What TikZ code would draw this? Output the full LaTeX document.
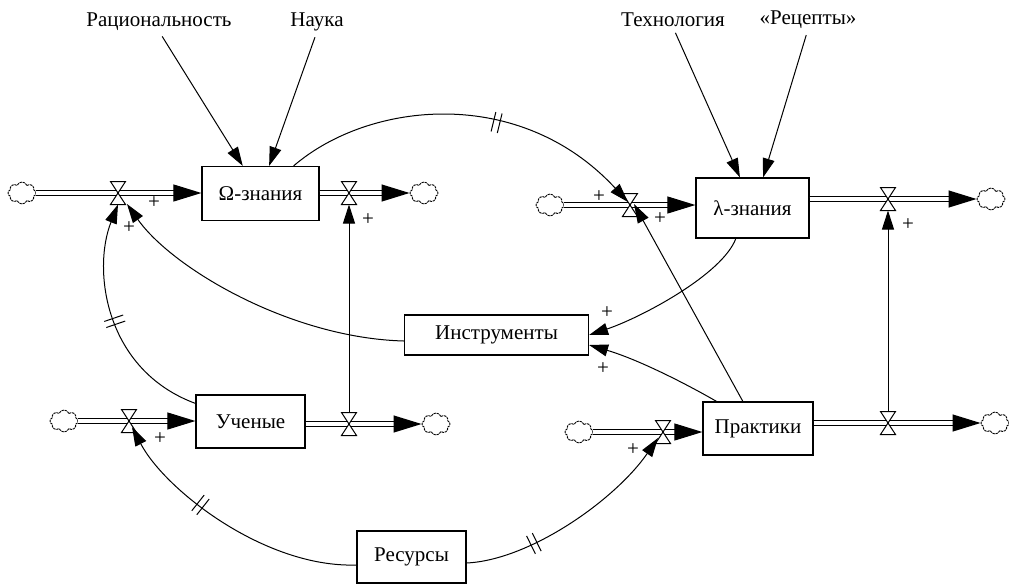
\documentclass[tikz,border=0pt]{standalone}
\usepackage{fontspec}
\setmainfont{Liberation Serif}
\usetikzlibrary{arrows.meta,calc,shapes.symbols,decorations.markings}
\tikzset{
  stock/.style={draw, line width=0.6pt, inner sep=0pt},
  lbl/.style={inner sep=0pt},
  plus/.style={inner sep=0pt},
  cloudy/.style={cloud, cloud puffs=8, cloud puff arc=140, aspect=1.3, draw, line width=0.45pt,
    dash pattern=on 1.2pt off 0.4pt, minimum width=14pt, minimum height=11pt, inner sep=0pt},
  valvenode/.style={inner sep=0pt, outer sep=0pt, minimum width=7.5pt, minimum height=11.5pt},
  bowtie/.pic={\draw[line width=0.5pt, fill=white] (-7.5,-11.5) -- (7.5,-11.5) -- (-7.5,11.5) -- (7.5,11.5) -- cycle;},
  pipe/.style={double, double distance=2pt, line width=0.55pt, -{Triangle[length=14pt,width=8.5pt]}},
  conn/.style={line width=0.5pt, -{Triangle[length=9.5pt,width=6pt]}},
  delay/.style={postaction={decorate, decoration={markings, mark=at position #1 with
    {\draw[-, shorten <=0pt, shorten >=0pt, line width=0.5pt] (-1.6pt,-5pt) -- (-1.6pt,5pt) (1.6pt,-5pt) -- (1.6pt,5pt);}}}}
}
\begin{document}
\begin{tikzpicture}[x=0.5pt,y=-0.5pt,font=\fontsize{10.5}{12}\selectfont]
\useasboundingbox (0,0) rectangle (1009,585);
% stocks
\node[stock, minimum width=58.5pt, minimum height=27pt] (omega) at (260.5,193.5) {Ω-знания};
\node[stock, minimum width=56.5pt, minimum height=30pt] (lam) at (752.5,208) {λ-знания};
\node[stock, minimum width=54.5pt, minimum height=26.5pt] (uch) at (250.5,421.5) {Ученые};
\node[stock, minimum width=55pt, minimum height=26.5pt] (prak) at (758,428.5) {Практики};
\node[stock, minimum width=92pt, minimum height=20pt] (instr) at (496.5,335) {Инструменты};
\node[stock, minimum width=54.5pt, minimum height=26pt] (res) at (411.5,557) {Ресурсы};
% labels
\node[lbl] (ratio) at (159,22) {Рациональность};
\node[lbl] (nauka) at (317,22) {Наука};
\node[lbl] (tech) at (673,20) {Технология};
\node[lbl] (rec) at (808,20) {«Рецепты»};
% clouds
\node[cloudy] (cO1) at (22,193) {};
\node[cloudy] (cO2) at (424,193) {};
\node[cloudy] (cL1) at (550,205) {};
\node[cloudy] (cL2) at (991,199) {};
\node[cloudy] (cU1) at (64,421) {};
\node[cloudy] (cU2) at (436,424) {};
\node[cloudy] (cP1) at (579,432) {};
\node[cloudy] (cP2) at (995,423) {};
% valves (nodes)
\node[valvenode] (vO1) at (118,193) {};
\node[valvenode] (vO2) at (349,193) {};
\node[valvenode] (vL1) at (630,205) {};
\node[valvenode] (vL2) at (888,199) {};
\node[valvenode] (vU1) at (129,421) {};
\node[valvenode] (vU2) at (349,424) {};
\node[valvenode] (vP1) at (663,432) {};
\node[valvenode] (vP2) at (888,423) {};
% pipes
\draw[pipe] (cO1) -- (omega.west |- cO1);
\draw[pipe] (omega.east |- vO2) -- (cO2);
\draw[pipe] (cL1) -- (lam.west |- cL1);
\draw[pipe] (lam.east |- vL2) -- (cL2);
\draw[pipe] (cU1) -- (uch.west |- cU1);
\draw[pipe] (uch.east |- vU2) -- (cU2);
\draw[pipe] (cP1) -- (prak.west |- cP1);
\draw[pipe] (prak.east |- vP2) -- (cP2);
% valve glyphs
\foreach \v in {vO1,vO2,vL1,vL2,vU1,vU2,vP1,vP2} \pic at (\v) {bowtie};
% connectors
\draw[conn, shorten <=3pt] (ratio.south) -- ($(omega.north west)!0.35!(omega.north east)$);
\draw[conn, shorten <=3pt] (nauka.south) -- ($(omega.north west)!0.573!(omega.north east)$);
\draw[conn, shorten <=3pt] (tech.south) -- ($(lam.north west)!0.39!(lam.north east)$);
\draw[conn, shorten <=3pt] (rec.south) -- ($(lam.north west)!0.593!(lam.north east)$);
\draw[conn, delay=0.58] ($(omega.north west)!0.78!(omega.north east)$) .. controls (369,101) and (520,85) .. ($(vL1)+(-2,-3)$);
\draw[conn] ($(lam.south west)!0.354!(lam.south east)$) .. controls (722,275) and (640,318) .. (instr.east);
\draw[conn] ($(prak.north west)!0.127!(prak.north east)$) .. controls (690,386) and (640,360) .. ($(instr.east)+(0,10)$);
\draw[conn] ($(prak.north west)!0.364!(prak.north east)$) -- ($(vL1)+(4,-1)$);
\draw[conn] ($(instr.west)+(0,6)$) .. controls (290,338) and (172,268) .. ($(vO1)+(9,11)$);
\draw[conn, delay=0.5] ($(uch.north west)+(0,9)$) .. controls (105,370) and (92,270) .. (vO1.south);
\draw[conn] (vU2.north) -- (vO2.south);
\draw[conn] (vP2.north) -- (vL2.south);
\draw[conn, delay=0.62] ($(res.west)+(0,8)$) .. controls (265,568) and (165,490) .. ($(vU1)+(3,6)$);
\draw[conn, delay=0.3] ($(res.east)+(0,6)$) .. controls (530,560) and (615,500) .. ($(vP1)+(-5,6)$);
% polarity signs
\node[plus] (s1) at (154,203) {+};
\node[plus] (s2) at (129,228) {+};
\node[plus] (s3) at (368,220) {+};
\node[plus] (s4) at (599,197) {+};
\node[plus] (s5) at (660,219) {+};
\node[plus] (s6) at (908,225) {+};
\node[plus] (s7) at (160,439) {+};
\node[plus] (s8) at (607,313) {+};
\node[plus] (s9) at (603,369) {+};
\node[plus] (s10) at (633,450) {+};
\end{tikzpicture}
\end{document}
